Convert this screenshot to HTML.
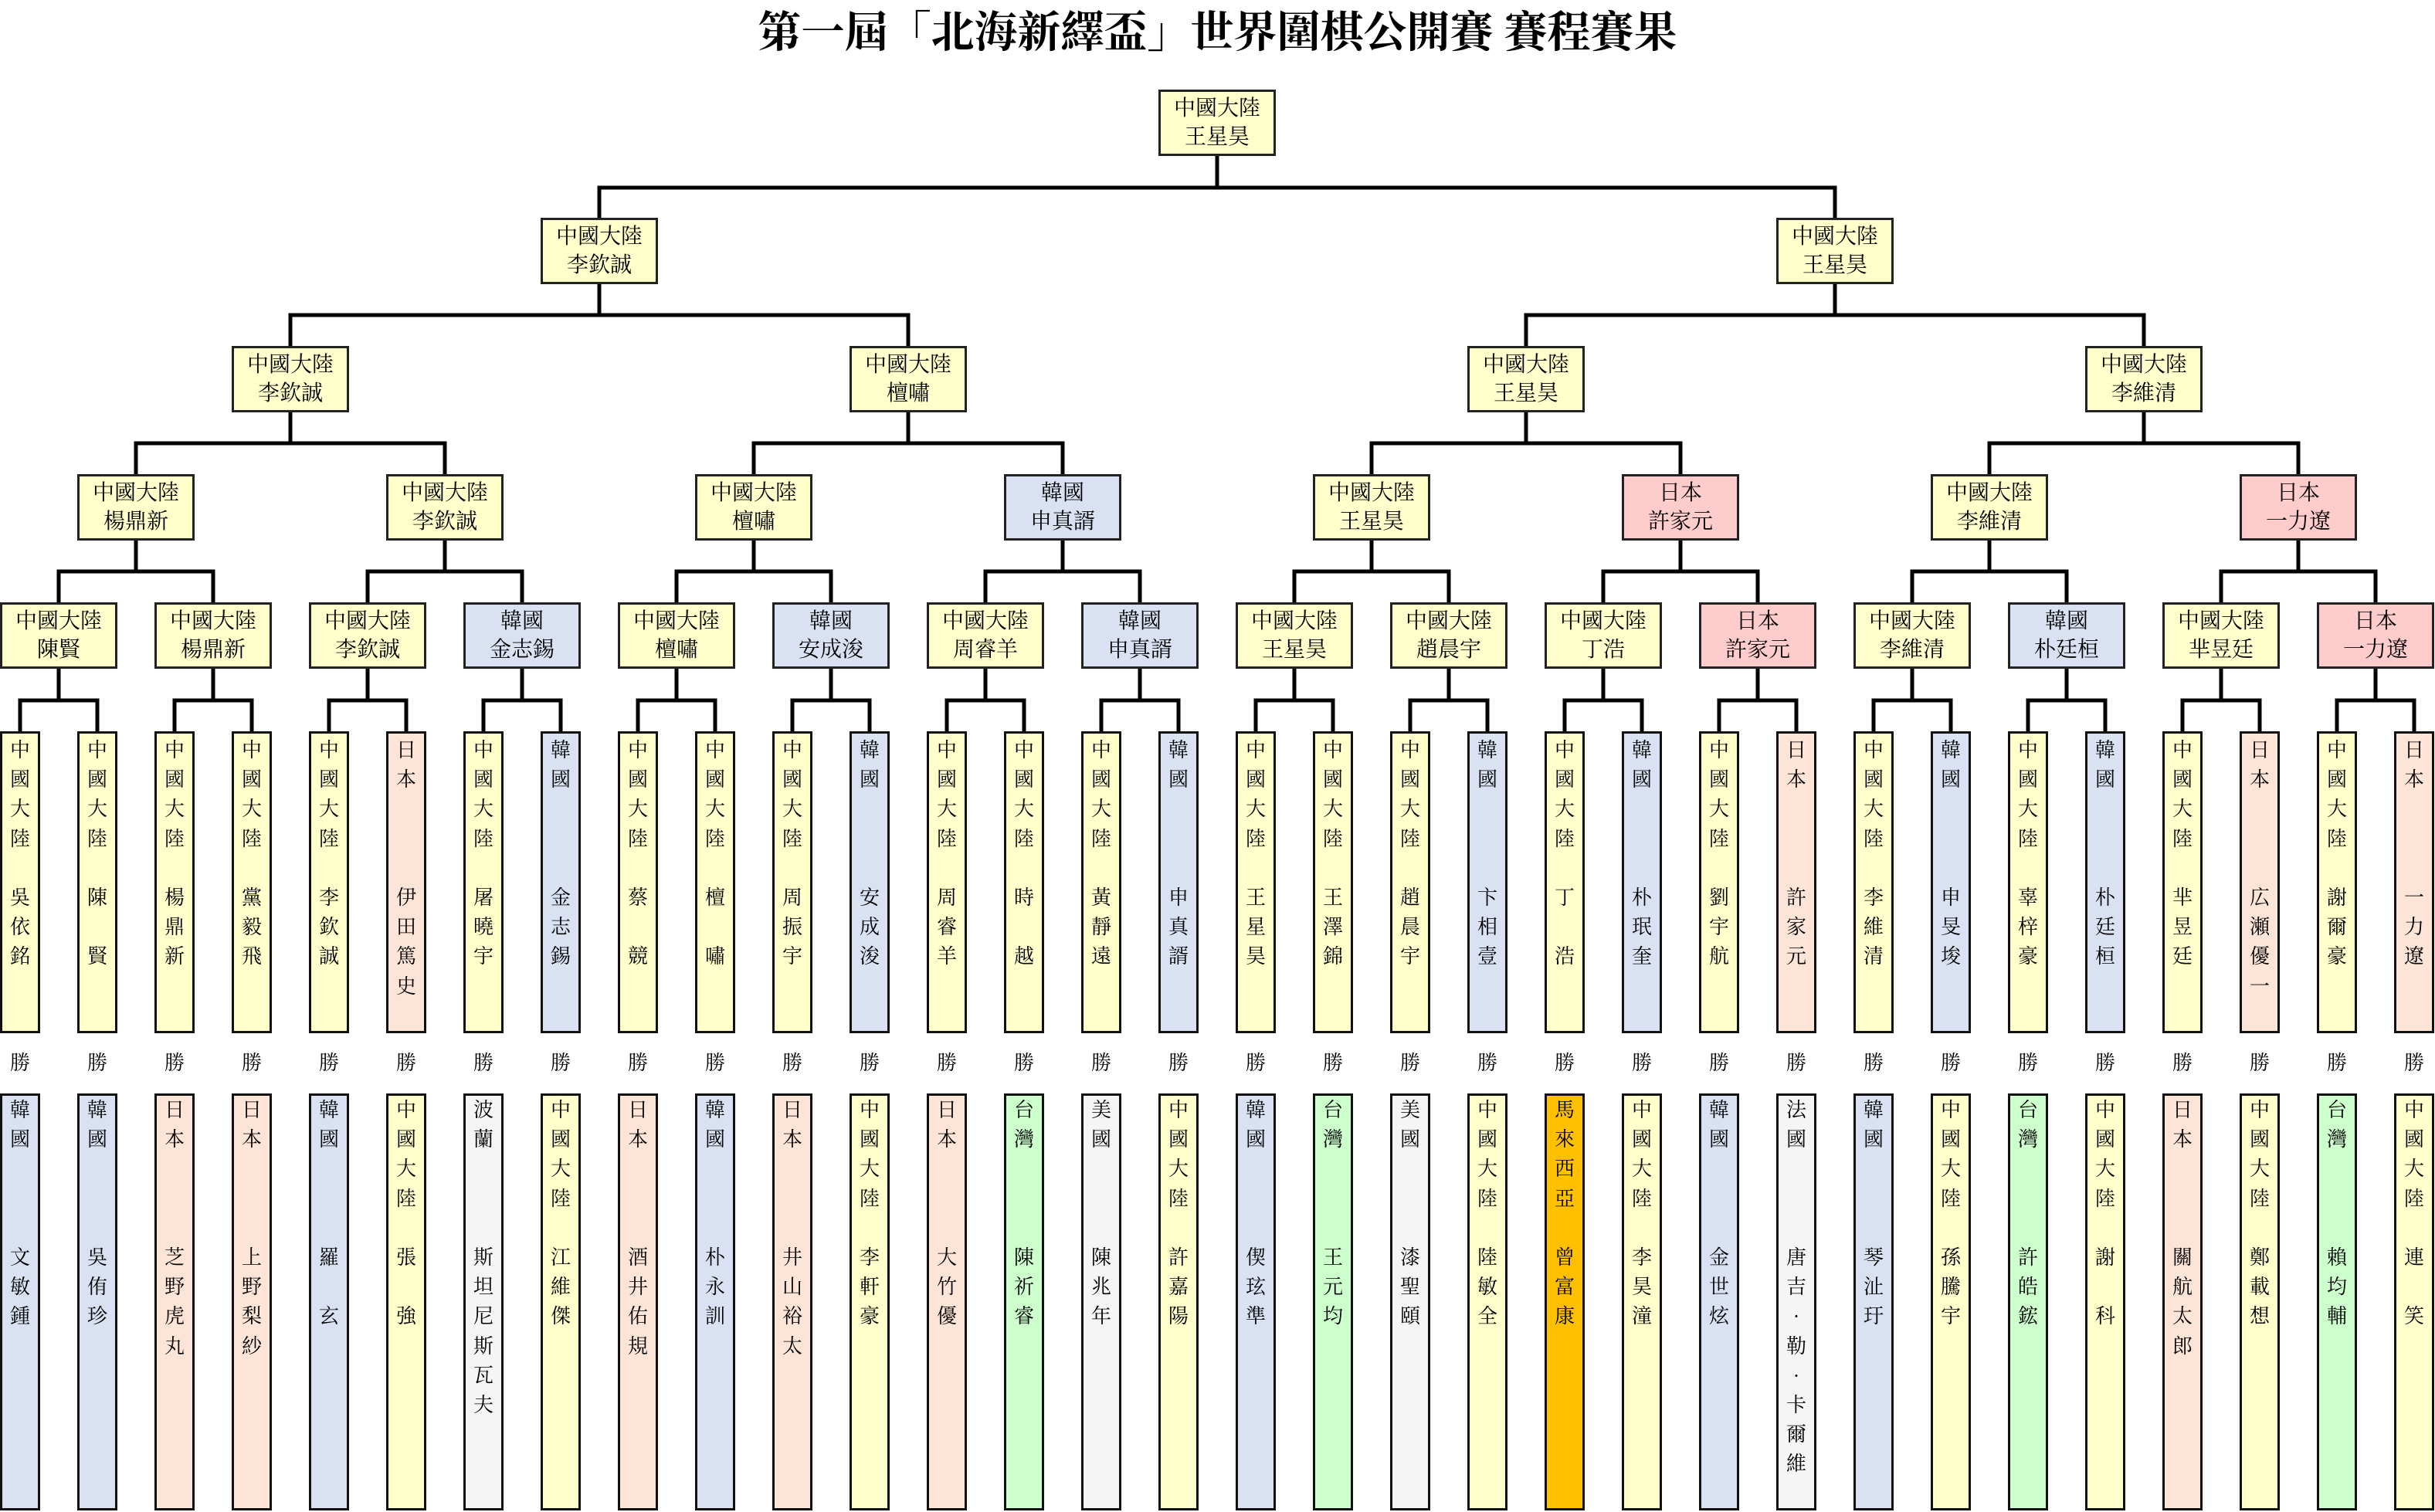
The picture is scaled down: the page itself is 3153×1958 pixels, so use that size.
<!DOCTYPE html>
<html><head><meta charset="utf-8"><style>
html,body{margin:0;padding:0;background:#fff}
body{width:3153px;height:1958px;position:relative;overflow:hidden;font-family:"Liberation Serif","Noto Serif CJK SC",serif;color:#000}
.t{position:absolute;left:0;width:3153px;top:8px;text-align:center;font-size:56px;font-weight:bold;line-height:70px;letter-spacing:0}
.b{position:absolute;width:152px;height:86px;box-sizing:border-box;border:3px solid #222;display:flex;align-items:center;justify-content:center;text-align:center;font-size:28px;line-height:37px}
.l{position:absolute;width:52px;box-sizing:border-box;border:3px solid #111;text-align:center;font-size:26px;line-height:38.2px}
.w1{top:947px;height:391px;padding-top:3px}
.w2{top:1416px;height:540px;padding-top:0}
.s{position:absolute;top:1360px;width:52px;text-align:center;font-size:26px;line-height:34px}
.y{background:#FFFFCC}.k{background:#D9E1F2}.j{background:#FFCCCC}.p{background:#FCE4D6}.g{background:#CCFFCC}.e{background:#F5F5F5}.o{background:#FFC000}
svg{position:absolute;left:0;top:0}
</style></head><body>
<div class="t">第一屆「北海新繹盃」世界圍棋公開賽 賽程賽果</div>
<svg width="3153" height="1958"><path fill="none" stroke="#000" stroke-width="5" d="
M1576 202V243 M776 282V243H2376V282
M776 368V408 M376 448V408H1176V448 M2376 368V408 M1976 448V408H2776V448
M376 534V574 M176 614V574H576V614 M1176 534V574 M976 614V574H1376V614
M1976 534V574 M1776 614V574H2176V614 M2776 534V574 M2576 614V574H2976V614
M176 700V740 M76 780V740H276V780 M576 700V740 M476 780V740H676V780
M976 700V740 M876 780V740H1076V780 M1376 700V740 M1276 780V740H1476V780
M1776 700V740 M1676 780V740H1876V780 M2176 700V740 M2076 780V740H2276V780
M2576 700V740 M2476 780V740H2676V780 M2976 700V740 M2876 780V740H3076V780
M76 866V907 M26 947V907H126V947 M276 866V907 M226 947V907H326V947
M476 866V907 M426 947V907H526V947 M676 866V907 M626 947V907H726V947
M876 866V907 M826 947V907H926V947 M1076 866V907 M1026 947V907H1126V947
M1276 866V907 M1226 947V907H1326V947 M1476 866V907 M1426 947V907H1526V947
M1676 866V907 M1626 947V907H1726V947 M1876 866V907 M1826 947V907H1926V947
M2076 866V907 M2026 947V907H2126V947 M2276 866V907 M2226 947V907H2326V947
M2476 866V907 M2426 947V907H2526V947 M2676 866V907 M2626 947V907H2726V947
M2876 866V907 M2826 947V907H2926V947 M3076 866V907 M3026 947V907H3126V947
"/></svg>

<div class="b y" style="left:1500px;top:116px">中國大陸<br>王星昊</div>

<div class="b y" style="left:700px;top:282px">中國大陸<br>李欽誠</div>
<div class="b y" style="left:2300px;top:282px">中國大陸<br>王星昊</div>

<div class="b y" style="left:300px;top:448px">中國大陸<br>李欽誠</div>
<div class="b y" style="left:1100px;top:448px">中國大陸<br>檀嘯</div>
<div class="b y" style="left:1900px;top:448px">中國大陸<br>王星昊</div>
<div class="b y" style="left:2700px;top:448px">中國大陸<br>李維清</div>

<div class="b y" style="left:100px;top:614px">中國大陸<br>楊鼎新</div>
<div class="b y" style="left:500px;top:614px">中國大陸<br>李欽誠</div>
<div class="b y" style="left:900px;top:614px">中國大陸<br>檀嘯</div>
<div class="b k" style="left:1300px;top:614px">韓國<br>申真諝</div>
<div class="b y" style="left:1700px;top:614px">中國大陸<br>王星昊</div>
<div class="b j" style="left:2100px;top:614px">日本<br>許家元</div>
<div class="b y" style="left:2500px;top:614px">中國大陸<br>李維清</div>
<div class="b j" style="left:2900px;top:614px">日本<br>一力遼</div>

<div class="b y" style="left:0px;top:780px">中國大陸<br>陳賢</div>
<div class="b y" style="left:200px;top:780px">中國大陸<br>楊鼎新</div>
<div class="b y" style="left:400px;top:780px">中國大陸<br>李欽誠</div>
<div class="b k" style="left:600px;top:780px">韓國<br>金志錫</div>
<div class="b y" style="left:800px;top:780px">中國大陸<br>檀嘯</div>
<div class="b k" style="left:1000px;top:780px">韓國<br>安成浚</div>
<div class="b y" style="left:1200px;top:780px">中國大陸<br>周睿羊</div>
<div class="b k" style="left:1400px;top:780px">韓國<br>申真諝</div>
<div class="b y" style="left:1600px;top:780px">中國大陸<br>王星昊</div>
<div class="b y" style="left:1800px;top:780px">中國大陸<br>趙晨宇</div>
<div class="b y" style="left:2000px;top:780px">中國大陸<br>丁浩</div>
<div class="b j" style="left:2200px;top:780px">日本<br>許家元</div>
<div class="b y" style="left:2400px;top:780px">中國大陸<br>李維清</div>
<div class="b k" style="left:2600px;top:780px">韓國<br>朴廷桓</div>
<div class="b y" style="left:2800px;top:780px">中國大陸<br>芈昱廷</div>
<div class="b j" style="left:3000px;top:780px">日本<br>一力遼</div>

<!-- winners -->
<div class="l w1 y" style="left:0px">中<br>國<br>大<br>陸<br><br>吳<br>依<br>銘</div>
<div class="l w1 y" style="left:100px">中<br>國<br>大<br>陸<br><br>陳<br><br>賢</div>
<div class="l w1 y" style="left:200px">中<br>國<br>大<br>陸<br><br>楊<br>鼎<br>新</div>
<div class="l w1 y" style="left:300px">中<br>國<br>大<br>陸<br><br>黨<br>毅<br>飛</div>
<div class="l w1 y" style="left:400px">中<br>國<br>大<br>陸<br><br>李<br>欽<br>誠</div>
<div class="l w1 p" style="left:500px">日<br>本<br><br><br><br>伊<br>田<br>篤<br>史</div>
<div class="l w1 y" style="left:600px">中<br>國<br>大<br>陸<br><br>屠<br>曉<br>宇</div>
<div class="l w1 k" style="left:700px">韓<br>國<br><br><br><br>金<br>志<br>錫</div>
<div class="l w1 y" style="left:800px">中<br>國<br>大<br>陸<br><br>蔡<br><br>競</div>
<div class="l w1 y" style="left:900px">中<br>國<br>大<br>陸<br><br>檀<br><br>嘯</div>
<div class="l w1 y" style="left:1000px">中<br>國<br>大<br>陸<br><br>周<br>振<br>宇</div>
<div class="l w1 k" style="left:1100px">韓<br>國<br><br><br><br>安<br>成<br>浚</div>
<div class="l w1 y" style="left:1200px">中<br>國<br>大<br>陸<br><br>周<br>睿<br>羊</div>
<div class="l w1 y" style="left:1300px">中<br>國<br>大<br>陸<br><br>時<br><br>越</div>
<div class="l w1 y" style="left:1400px">中<br>國<br>大<br>陸<br><br>黃<br>靜<br>遠</div>
<div class="l w1 k" style="left:1500px">韓<br>國<br><br><br><br>申<br>真<br>諝</div>
<div class="l w1 y" style="left:1600px">中<br>國<br>大<br>陸<br><br>王<br>星<br>昊</div>
<div class="l w1 y" style="left:1700px">中<br>國<br>大<br>陸<br><br>王<br>澤<br>錦</div>
<div class="l w1 y" style="left:1800px">中<br>國<br>大<br>陸<br><br>趙<br>晨<br>宇</div>
<div class="l w1 k" style="left:1900px">韓<br>國<br><br><br><br>卞<br>相<br>壹</div>
<div class="l w1 y" style="left:2000px">中<br>國<br>大<br>陸<br><br>丁<br><br>浩</div>
<div class="l w1 k" style="left:2100px">韓<br>國<br><br><br><br>朴<br>珉<br>奎</div>
<div class="l w1 y" style="left:2200px">中<br>國<br>大<br>陸<br><br>劉<br>宇<br>航</div>
<div class="l w1 p" style="left:2300px">日<br>本<br><br><br><br>許<br>家<br>元</div>
<div class="l w1 y" style="left:2400px">中<br>國<br>大<br>陸<br><br>李<br>維<br>清</div>
<div class="l w1 k" style="left:2500px">韓<br>國<br><br><br><br>申<br>旻<br>埈</div>
<div class="l w1 y" style="left:2600px">中<br>國<br>大<br>陸<br><br>辜<br>梓<br>豪</div>
<div class="l w1 k" style="left:2700px">韓<br>國<br><br><br><br>朴<br>廷<br>桓</div>
<div class="l w1 y" style="left:2800px">中<br>國<br>大<br>陸<br><br>芈<br>昱<br>廷</div>
<div class="l w1 p" style="left:2900px">日<br>本<br><br><br><br>広<br>瀬<br>優<br>一</div>
<div class="l w1 y" style="left:3000px">中<br>國<br>大<br>陸<br><br>謝<br>爾<br>豪</div>
<div class="l w1 p" style="left:3100px">日<br>本<br><br><br><br>一<br>力<br>遼</div>

<!-- 勝 -->
<div class="s" style="left:0px">勝</div><div class="s" style="left:100px">勝</div><div class="s" style="left:200px">勝</div><div class="s" style="left:300px">勝</div>
<div class="s" style="left:400px">勝</div><div class="s" style="left:500px">勝</div><div class="s" style="left:600px">勝</div><div class="s" style="left:700px">勝</div>
<div class="s" style="left:800px">勝</div><div class="s" style="left:900px">勝</div><div class="s" style="left:1000px">勝</div><div class="s" style="left:1100px">勝</div>
<div class="s" style="left:1200px">勝</div><div class="s" style="left:1300px">勝</div><div class="s" style="left:1400px">勝</div><div class="s" style="left:1500px">勝</div>
<div class="s" style="left:1600px">勝</div><div class="s" style="left:1700px">勝</div><div class="s" style="left:1800px">勝</div><div class="s" style="left:1900px">勝</div>
<div class="s" style="left:2000px">勝</div><div class="s" style="left:2100px">勝</div><div class="s" style="left:2200px">勝</div><div class="s" style="left:2300px">勝</div>
<div class="s" style="left:2400px">勝</div><div class="s" style="left:2500px">勝</div><div class="s" style="left:2600px">勝</div><div class="s" style="left:2700px">勝</div>
<div class="s" style="left:2800px">勝</div><div class="s" style="left:2900px">勝</div><div class="s" style="left:3000px">勝</div><div class="s" style="left:3100px">勝</div>

<!-- losers -->
<div class="l w2 k" style="left:0px">韓<br>國<br><br><br><br>文<br>敏<br>鍾</div>
<div class="l w2 k" style="left:100px">韓<br>國<br><br><br><br>吳<br>侑<br>珍</div>
<div class="l w2 p" style="left:200px">日<br>本<br><br><br><br>芝<br>野<br>虎<br>丸</div>
<div class="l w2 p" style="left:300px">日<br>本<br><br><br><br>上<br>野<br>梨<br>紗</div>
<div class="l w2 k" style="left:400px">韓<br>國<br><br><br><br>羅<br><br>玄</div>
<div class="l w2 y" style="left:500px">中<br>國<br>大<br>陸<br><br>張<br><br>強</div>
<div class="l w2 e" style="left:600px">波<br>蘭<br><br><br><br>斯<br>坦<br>尼<br>斯<br>瓦<br>夫</div>
<div class="l w2 y" style="left:700px">中<br>國<br>大<br>陸<br><br>江<br>維<br>傑</div>
<div class="l w2 p" style="left:800px">日<br>本<br><br><br><br>酒<br>井<br>佑<br>規</div>
<div class="l w2 k" style="left:900px">韓<br>國<br><br><br><br>朴<br>永<br>訓</div>
<div class="l w2 p" style="left:1000px">日<br>本<br><br><br><br>井<br>山<br>裕<br>太</div>
<div class="l w2 y" style="left:1100px">中<br>國<br>大<br>陸<br><br>李<br>軒<br>豪</div>
<div class="l w2 p" style="left:1200px">日<br>本<br><br><br><br>大<br>竹<br>優</div>
<div class="l w2 g" style="left:1300px">台<br>灣<br><br><br><br>陳<br>祈<br>睿</div>
<div class="l w2 e" style="left:1400px">美<br>國<br><br><br><br>陳<br>兆<br>年</div>
<div class="l w2 y" style="left:1500px">中<br>國<br>大<br>陸<br><br>許<br>嘉<br>陽</div>
<div class="l w2 k" style="left:1600px">韓<br>國<br><br><br><br>偰<br>玹<br>準</div>
<div class="l w2 g" style="left:1700px">台<br>灣<br><br><br><br>王<br>元<br>均</div>
<div class="l w2 e" style="left:1800px">美<br>國<br><br><br><br>漆<br>聖<br>頤</div>
<div class="l w2 y" style="left:1900px">中<br>國<br>大<br>陸<br><br>陸<br>敏<br>全</div>
<div class="l w2 o" style="left:2000px">馬<br>來<br>西<br>亞<br><br>曾<br>富<br>康</div>
<div class="l w2 y" style="left:2100px">中<br>國<br>大<br>陸<br><br>李<br>昊<br>潼</div>
<div class="l w2 k" style="left:2200px">韓<br>國<br><br><br><br>金<br>世<br>炫</div>
<div class="l w2 e" style="left:2300px">法<br>國<br><br><br><br>唐<br>吉<br>·<br>勒<br>·<br>卡<br>爾<br>維</div>
<div class="l w2 k" style="left:2400px">韓<br>國<br><br><br><br>琴<br>沚<br>玗</div>
<div class="l w2 y" style="left:2500px">中<br>國<br>大<br>陸<br><br>孫<br>騰<br>宇</div>
<div class="l w2 g" style="left:2600px">台<br>灣<br><br><br><br>許<br>皓<br>鋐</div>
<div class="l w2 y" style="left:2700px">中<br>國<br>大<br>陸<br><br>謝<br><br>科</div>
<div class="l w2 p" style="left:2800px">日<br>本<br><br><br><br>關<br>航<br>太<br>郎</div>
<div class="l w2 y" style="left:2900px">中<br>國<br>大<br>陸<br><br>鄭<br>載<br>想</div>
<div class="l w2 g" style="left:3000px">台<br>灣<br><br><br><br>賴<br>均<br>輔</div>
<div class="l w2 y" style="left:3100px">中<br>國<br>大<br>陸<br><br>連<br><br>笑</div>
</body></html>
